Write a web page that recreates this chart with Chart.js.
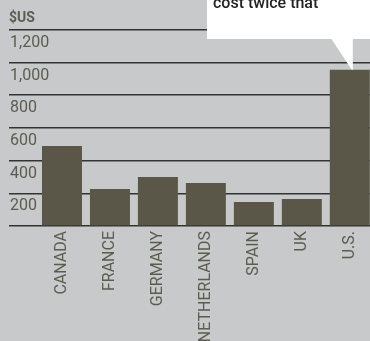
<!DOCTYPE html>
<html>
	<head>
		<title>Cost bars</title>
		<style type="text/css">
			html, body{
				margin: 0;
				padding: 0;
				overflow: hidden;
				background: #c8c9cb;
			}
			#chart-container{
				width: 374px;
				height: 341px;
			}
		</style>
	</head>
	<body>
		<script type="text/javascript" src="https://cdn.jsdelivr.net/npm/chart.js@4/dist/chart.umd.min.js"></script>

		<div id="chart-container">
			<canvas id="mycanvas" width="374" height="341"></canvas>
		</div>

		<script type="text/javascript">
			// values
			var countries = ['CANADA', 'FRANCE', 'GERMANY', 'NETHERLANDS', 'SPAIN', 'UK', 'U.S.'];
			var costs = [490, 227, 300, 263, 147, 165, 955];
			var yTicks = [0, 200, 400, 600, 800, 1000, 1200];
			var unitLabel = '$US';
			var noteText = 'cost twice that';

			var barColor = '#5a5749';
			var textColor = '#5c5b50';
			var lineColor = '#333333';

			// white callout box at the top right, pointing at the U.S. bar
			var calloutPlugin = {
				id: 'callout',
				afterDraw: function(chart){
					var ctx = chart.ctx;
					var meta = chart.getDatasetMeta(0);
					var usBar = meta.data[meta.data.length - 1];
					var tipX = usBar.x + 2;
					var tipY = usBar.y;
					ctx.save();
					ctx.fillStyle = '#ffffff';
					ctx.fillRect(207, 0, 170, 39);
					ctx.beginPath();
					ctx.moveTo(tipX - 21, 38);
					ctx.lineTo(tipX + 1, 38);
					ctx.lineTo(tipX + 1, tipY);
					ctx.lineTo(tipX, tipY);
					ctx.closePath();
					ctx.fill();
					ctx.fillStyle = '#222222';
					ctx.font = '500 16px Roboto';
					ctx.textBaseline = 'alphabetic';
					ctx.textAlign = 'left';
					ctx.fillText(noteText, 213, 8);
					ctx.restore();
				}
			};

			var chartdata = {
				labels: countries,
				datasets: [
					{
						data: costs,
						backgroundColor: barColor,
						borderWidth: 0,
						barPercentage: 40 / 48,
						categoryPercentage: 1
					}
				]
			};

			var barGraph = new Chart(document.getElementById('mycanvas'), {
				type: 'bar',
				data: chartdata,
				plugins: [calloutPlugin],
				options: {
					responsive: false,
					animation: false,
					layout: {
						padding: {left: 9, right: 0, top: 0, bottom: 0}
					},
					plugins: {
						legend: {display: false},
						tooltip: {enabled: false},
						title: {
							display: true,
							text: unitLabel,
							align: 'start',
							color: textColor,
							font: {family: 'Roboto', size: 14, weight: 'bold'},
							padding: {top: 10, bottom: 3}
						}
					},
					scales: {
						x: {
							grid: {display: false, drawTicks: false},
							border: {display: false},
							afterFit: function(scale){
								scale.height = 115;
							},
							ticks: {
								autoSkip: false,
								minRotation: 90,
								maxRotation: 90,
								padding: 5,
								color: textColor,
								font: {family: 'Roboto', size: 16}
							}
						},
						y: {
							min: yTicks[0],
							max: yTicks[yTicks.length - 1],
							afterFit: function(scale){
								scale.width = 29;
							},
							afterBuildTicks: function(scale){
								scale.ticks = yTicks.map(function(v){ return {value: v}; });
							},
							border: {display: false},
							grid: {
								color: lineColor,
								lineWidth: 1.5,
								drawTicks: true,
								tickLength: 29
							},
							ticks: {
								mirror: true,
								crossAlign: 'near',
								padding: -28,
								labelOffset: 13,
								color: textColor,
								font: {family: 'Roboto', size: 16},
								callback: function(value){
									if (value === 0) return '';
									return value.toLocaleString('en-US');
								}
							}
						}
					}
				}
			});
		</script>
	</body>
</html>
